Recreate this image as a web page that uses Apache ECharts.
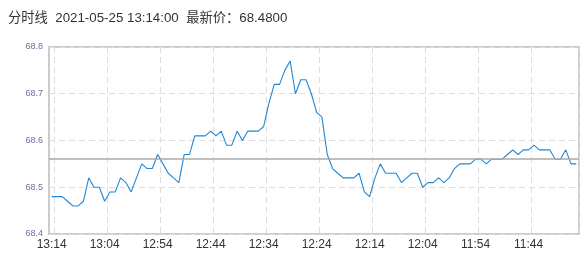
<!DOCTYPE html>
<html>
<head>
<meta charset="utf-8">
<script src="https://cdn.jsdelivr.net/npm/echarts@6/dist/echarts.min.js"></script>
<style>
html,body{margin:0;padding:0;background:#fff;}
#chart{width:587px;height:266px;}
</style>
</head>
<body>
<div id="chart"></div>
<script>
const titleText = '分时线  2021-05-25 13:14:00  最新价：68.4800';

const times = [
  '13:14','13:13','13:12','13:11','13:10','13:09','13:08','13:07','13:06','13:05',
  '13:04','13:03','13:02','13:01','13:00','12:59','12:58','12:57','12:56','12:55',
  '12:54','12:53','12:52','12:51','12:50','12:49','12:48','12:47','12:46','12:45',
  '12:44','12:43','12:42','12:41','12:40','12:39','12:38','12:37','12:36','12:35',
  '12:34','12:33','12:32','12:31','12:30','12:29','12:28','12:27','12:26','12:25',
  '12:24','12:23','12:22','12:21','12:20','12:19','12:18','12:17','12:16','12:15',
  '12:14','12:13','12:12','12:11','12:10','12:09','12:08','12:07','12:06','12:05',
  '12:04','12:03','12:02','12:01','12:00','11:59','11:58','11:57','11:56','11:55',
  '11:54','11:53','11:52','11:51','11:50','11:49','11:48','11:47','11:46','11:45',
  '11:44','11:43','11:42','11:41','11:40','11:39','11:38','11:37','11:36','11:35'
];

const prices = [
  68.48,68.48,68.48,68.47,68.46,68.46,68.47,68.52,68.50,68.50,
  68.47,68.49,68.49,68.52,68.51,68.49,68.52,68.55,68.54,68.54,
  68.57,68.55,68.53,68.52,68.51,68.57,68.57,68.61,68.61,68.61,
  68.62,68.61,68.62,68.59,68.59,68.62,68.60,68.62,68.62,68.62,
  68.63,68.68,68.72,68.72,68.75,68.77,68.70,68.73,68.73,68.70,
  68.66,68.65,68.57,68.54,68.53,68.52,68.52,68.52,68.53,68.49,
  68.48,68.52,68.55,68.53,68.53,68.53,68.51,68.52,68.53,68.53,
  68.50,68.51,68.51,68.52,68.51,68.52,68.54,68.55,68.55,68.55,
  68.56,68.56,68.55,68.56,68.56,68.56,68.57,68.58,68.57,68.58,
  68.58,68.59,68.58,68.58,68.58,68.56,68.56,68.58,68.55,68.55
];

const refPrice = 68.56;
const yTicks = ['68.4','68.5','68.6','68.7','68.8'];

const chart = echarts.init(document.getElementById('chart'), null, {renderer: 'canvas'});
chart.setOption({
  animation: false,
  title: {
    text: titleText,
    left: 8,
    top: 12,
    padding: 0,
    textStyle: {fontSize: 13.3, fontWeight: 'normal', color: '#333', fontFamily: 'Liberation Sans, Noto Sans CJK SC, sans-serif'}
  },
  grid: {
    left: 49, right: 8, top: 47, bottom: 32,
    show: true, borderColor: '#ccc', borderWidth: 2, backgroundColor: 'transparent'
  },
  xAxis: {
    type: 'category',
    data: times,
    boundaryGap: true,
    axisLine: {show: false},
    axisTick: {show: false},
    axisLabel: {
      interval: function (i) { return i % 10 === 0; },
      color: '#333', fontSize: 12, margin: 5,
      fontFamily: 'Liberation Sans, sans-serif'
    },
    splitLine: {
      show: true,
      interval: function (i) { return i % 10 === 1; },
      lineStyle: {color: '#ddd', type: [6, 4], width: 1}
    }
  },
  yAxis: {
    type: 'value',
    min: Number(yTicks[0]),
    max: Number(yTicks[yTicks.length - 1]),
    interval: 0.1,
    axisLine: {show: false},
    axisTick: {show: false},
    axisLabel: {
      color: '#6e6ea0', fontSize: 9, margin: 6,
      fontFamily: 'Liberation Sans, sans-serif',
      formatter: function (v) { return v.toFixed(1); }
    },
    splitLine: {show: true, lineStyle: {color: '#ddd', type: [6, 4], width: 1}}
  },
  series: [{
    type: 'line',
    data: prices,
    showSymbol: false,
    symbol: 'none',
    lineStyle: {color: '#2287d2', width: 1.1},
    itemStyle: {color: '#2287d2'},
    markLine: {
      silent: true,
      symbol: 'none',
      label: {show: false},
      lineStyle: {color: '#aaa', type: 'solid', width: 1.5},
      data: [{yAxis: refPrice}]
    }
  }]
});
</script>
</body>
</html>
